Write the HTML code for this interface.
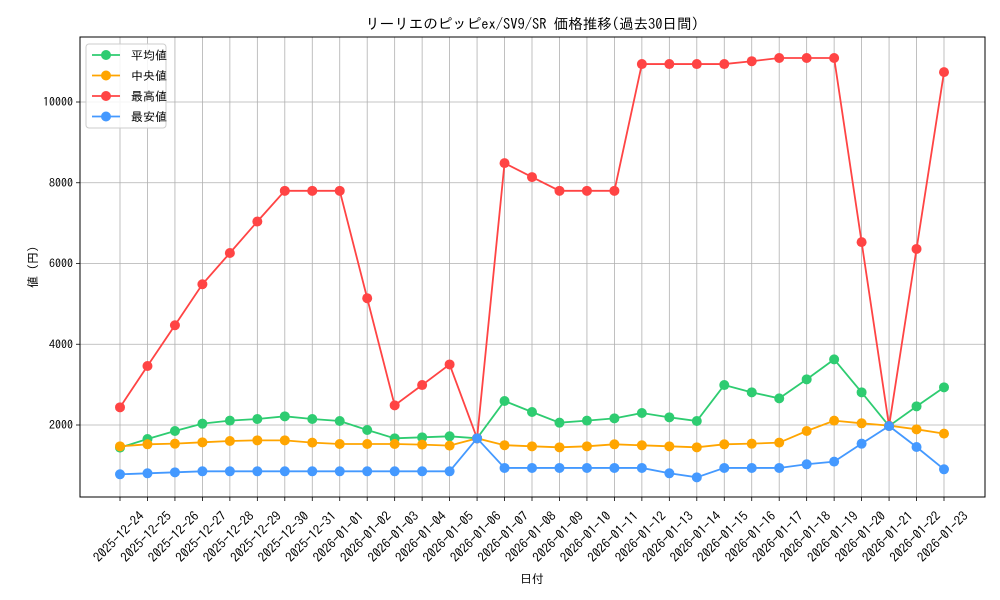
<!DOCTYPE html>
<html><head><meta charset="utf-8"><style>
body{margin:0;background:#fff}
svg{display:block;font-family:"IPAGothic","Noto Sans CJK JP",sans-serif}
</style></head><body>
<svg id="chart" width="1000" height="600" xmlns="http://www.w3.org/2000/svg"></svg>
<script>
const categories=["2025-12-24","2025-12-25","2025-12-26","2025-12-27","2025-12-28","2025-12-29","2025-12-30","2025-12-31","2026-01-01","2026-01-02","2026-01-03","2026-01-04","2026-01-05","2026-01-06","2026-01-07","2026-01-08","2026-01-09","2026-01-10","2026-01-11","2026-01-12","2026-01-13","2026-01-14","2026-01-15","2026-01-16","2026-01-17","2026-01-18","2026-01-19","2026-01-20","2026-01-21","2026-01-22","2026-01-23"];
const avgValues=[1440,1653,1851,2033,2108,2149,2215,2149,2099,1876,1670,1695,1720,1670,2594,2322,2058,2108,2165,2297,2190,2099,2990,2809,2660,3131,3626,2809,1975,2462,2933];
const medianValues=[1472,1522,1538,1571,1604,1620,1620,1563,1530,1530,1530,1514,1489,1670,1500,1472,1447,1472,1522,1497,1472,1447,1522,1538,1563,1851,2108,2042,1984,1893,1786];
const maxValues=[2438,3461,4470,5486,6260,7040,7800,7800,7800,5140,2487,2990,3500,1670,8486,8140,7800,7800,7800,10940,10940,10940,10940,11010,11090,11090,11090,6530,1975,6360,10740];
const minValues=[779,804,828,853,853,853,853,853,853,853,853,853,853,1670,936,936,936,936,936,936,804,704,936,936,936,1027,1093,1538,1975,1455,903];
const yTicks=[2000,4000,6000,8000,10000];
const seriesNames=["平均値","中央値","最高値","最安値"];
const seriesColors=["#2ecc71","#ffa500","#ff4444","#4499ff"];

const L=80,R=985,T=37,B=497;
const x=i=>120+i*(944-120)/(categories.length-1);
const y=v=>505.75-v*0.040375;
const svg=document.getElementById('chart');
const NS="http://www.w3.org/2000/svg";
function mk(tag,attrs,parent){const e=document.createElementNS(NS,tag);for(const k in attrs)e.setAttribute(k,attrs[k]);(parent||svg).appendChild(e);return e;}

categories.forEach((c,i)=>{
  const g=mk('line',{x1:x(i),x2:x(i),y1:T,y2:B,stroke:'#b0b0b0','stroke-width':0.8});
  
  
  const t=mk('line',{x1:x(i),x2:x(i),y1:B,y2:B+4,stroke:'#000','stroke-width':0.8});
  
  
  const lx=x(i)-1,ly=541;
  const lbl=mk('text',{x:lx,y:ly,'font-size':13,'text-anchor':'middle',transform:`rotate(-45 ${lx} ${ly-4})`});
  lbl.textContent=c;
  
  
});
yTicks.forEach(v=>{
  const g=mk('line',{x1:L,x2:R,y1:y(v),y2:y(v),stroke:'#b0b0b0','stroke-width':0.8});
  
  
  mk('line',{x1:L-4,x2:L,y1:y(v),y2:y(v),stroke:'#000','stroke-width':0.8});
  const t=mk('text',{x:L-7,y:y(v)+4,'font-size':12,'text-anchor':'end'});
  t.textContent=v;
  
  
});
const frame=mk('rect',{x:L,y:T,width:R-L,height:B-T,fill:'none',stroke:'#000','stroke-width':1});



const all=[avgValues,medianValues,maxValues,minValues];
const snames=['average','median','max','min'];
all.forEach((vals,s)=>{
  const g=mk('g',{});
  
  
  mk('polyline',{points:vals.map((v,i)=>x(i)+','+y(v)).join(' '),fill:'none',stroke:seriesColors[s],'stroke-width':1.8},g);
  vals.forEach((v,i)=>{
    const p=mk('circle',{cx:x(i),cy:y(v),r:5,fill:seriesColors[s]},g);
    
    
  });
});

const lg=mk('g',{});


mk('rect',{x:86,y:44,width:80,height:84,rx:3,fill:'#fff','fill-opacity':0.85,stroke:'#ccc'},lg);
seriesNames.forEach((n,s)=>{
  const yy=55+s*20.5;
  const e=mk('g',{},lg);
  
  
  mk('line',{x1:92,x2:120,y1:yy,y2:yy,stroke:seriesColors[s],'stroke-width':1.8},e);
  mk('circle',{cx:106,cy:yy,r:5,fill:seriesColors[s]},e);
  const t=mk('text',{x:131,y:yy+4.5,'font-size':12},e);
  t.textContent=n;
});

const title=mk('text',{x:532,y:29,'font-size':14.5,'text-anchor':'middle'});
title.textContent="リーリエのピッピex/SV9/SR 価格推移(過去30日間)";


const xt=mk('text',{x:532,y:583,'font-size':12,'text-anchor':'middle'});
xt.textContent="日付";


const yt=mk('text',{x:37,y:267,'font-size':12,'text-anchor':'middle',transform:'rotate(-90 37 267)'});
yt.textContent="値 (円)";


</script>
</body></html>
